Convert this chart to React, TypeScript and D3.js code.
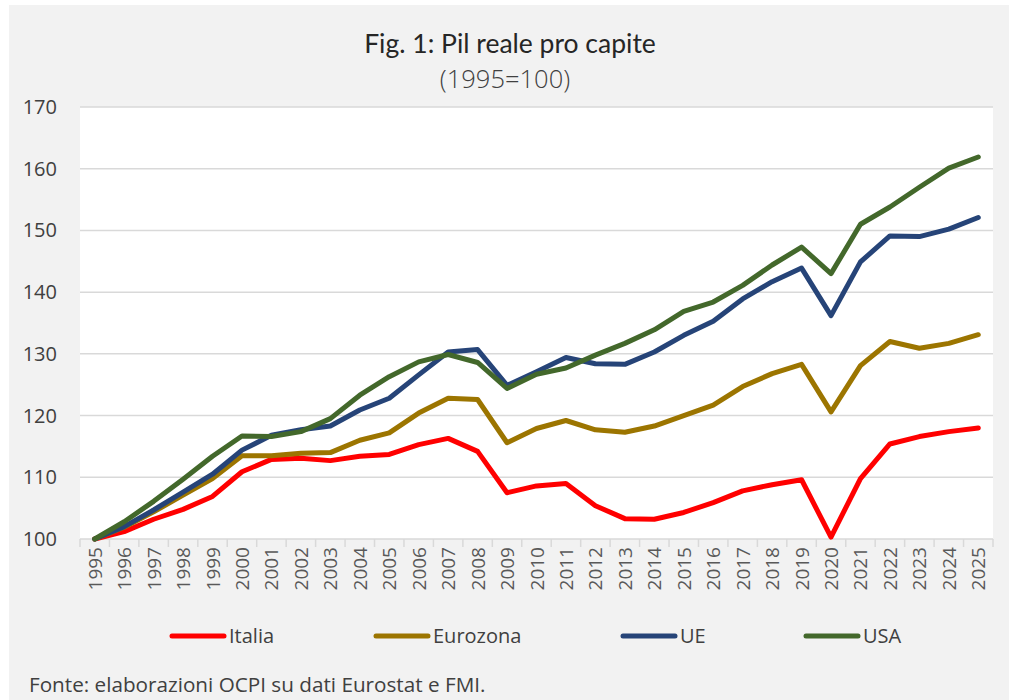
import React from "react";
import * as d3 from "d3";

const years = ["1995","1996","1997","1998","1999","2000","2001","2002","2003","2004","2005","2006","2007","2008","2009","2010","2011","2012","2013","2014","2015","2016","2017","2018","2019","2020","2021","2022","2023","2024","2025"];

const italia = [100,101.2,103.2,104.8,106.9,110.9,112.9,113.1,112.7,113.4,113.7,115.3,116.3,114.2,107.5,108.6,109.0,105.4,103.3,103.2,104.3,105.9,107.8,108.8,109.6,100.3,109.8,115.4,116.6,117.4,118.0];
const eurozona = [100,101.9,104.4,107.1,109.8,113.5,113.5,113.9,114.0,116.0,117.2,120.4,122.8,122.6,115.6,117.9,119.2,117.7,117.3,118.3,120.0,121.7,124.7,126.8,128.3,120.6,128.1,132.0,130.9,131.7,133.1];
const ue = [100,102.0,104.7,107.6,110.5,114.4,116.8,117.7,118.3,120.9,122.8,126.6,130.3,130.7,124.9,127.1,129.4,128.4,128.3,130.3,133.0,135.3,138.9,141.7,143.9,136.2,144.9,149.1,149.0,150.2,152.1];
const usa = [100,102.8,106.1,109.7,113.4,116.7,116.6,117.4,119.5,123.3,126.3,128.7,129.9,128.6,124.4,126.7,127.7,129.8,131.7,133.9,136.9,138.4,141.1,144.4,147.3,143.0,151.0,153.8,157.0,160.1,161.9];

const yTicks = [100,110,120,130,140,150,160,170];

const seriesNames = ["Italia","Eurozona","UE","USA"];
const seriesValues = [italia, eurozona, ue, usa];
const seriesColors = ["#ff0000","#9c7500","#264478","#43682b"];

const W = 1009, H = 700;
const FONT = "'Open Sans', sans-serif";

export default function App() {
  const x = d3.scaleBand<string>().domain(years).range([80, 993]);
  const y = d3.scaleLinear().domain([100, 170]).range([539, 107]);
  const cx = (yr: string) => (x(yr) as number) + x.bandwidth() / 2;
  const line = d3.line<number>().x((_, i) => cx(years[i])).y(v => y(v));
  const legendX = [170, 374, 621, 804];

  return (
    <svg width={W} height={H} style={{ position: "absolute", left: 0, top: 0 }} fontFamily={FONT}>
      <rect x={0} y={0} width={W} height={H} fill="#ffffff" />
      <rect x={9} y={5} width={W - 9} height={H - 5} fill="#f2f2f2" />
      <rect x={80} y={107} width={913} height={432} fill="#ffffff" />
      <text x={510} y={53} textAnchor="middle" fontSize={26.5} fill="#262626" fontFamily="Lato, sans-serif">Fig. 1: Pil reale pro capite</text>
      <text x={505} y={88} textAnchor="middle" fontSize={25.5} fill="#404040" fontWeight={300}>(1995=100)</text>
      {yTicks.map(t => (
        <g key={t}>
          <line x1={80} x2={993} y1={y(t)} y2={y(t)} stroke="#d9d9d9" strokeWidth={1.5} />
          <text x={57} y={y(t) + 7} textAnchor="end" fontSize={20} fill="#404040">{t}</text>
        </g>
      ))}
      {years.map(yr => (
        <line key={"t" + yr} x1={x(yr)} x2={x(yr)} y1={539} y2={547} stroke="#d9d9d9" strokeWidth={1.5} />
      ))}
      <line x1={993} x2={993} y1={539} y2={547} stroke="#d9d9d9" strokeWidth={1.5} />
      {years.map(yr => (
        <text key={"l" + yr} transform={`translate(${cx(yr) + 7},547) rotate(-90)`} textAnchor="end" fontSize={19} fill="#595959">{yr}</text>
      ))}
      {seriesValues.map((vals, i) => (
        <path key={seriesNames[i]} d={line(vals) || ""} fill="none" stroke={seriesColors[i]} strokeWidth={5} strokeLinejoin="round" strokeLinecap="round" />
      ))}
      {seriesNames.map((n, i) => (
        <g key={"lg" + n}>
          <line x1={legendX[i] + 2} x2={legendX[i] + 54} y1={636} y2={636} stroke={seriesColors[i]} strokeWidth={5} strokeLinecap="round" />
          <text x={legendX[i] + 59} y={643} fontSize={20} fill="#404040">{n}</text>
        </g>
      ))}
      <text x={29} y={692} fontSize={20.7} fill="#404040">Fonte: elaborazioni OCPI su dati Eurostat e FMI.</text>
    </svg>
  );
}
